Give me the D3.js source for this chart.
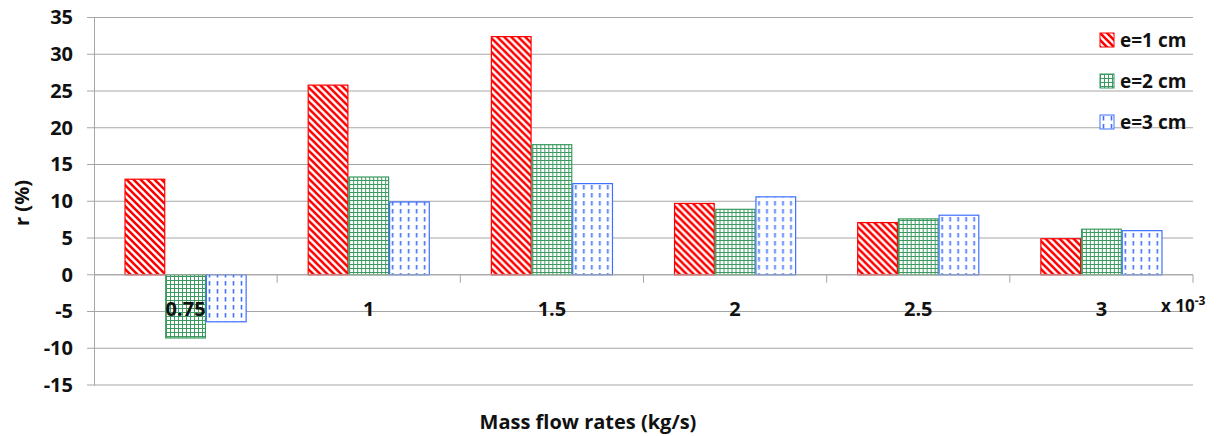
<!DOCTYPE html>
<html>
<head>
<meta charset="utf-8">
<script src="https://cdn.jsdelivr.net/npm/d3@7"></script>
<style>
body { margin: 0; background: #fff; }
text { font-family: "Open Sans", Lato, sans-serif; font-weight: bold; fill: #111; }
</style>
</head>
<body>
<script>
// chart data
var categories = ["0.75", "1", "1.5", "2", "2.5", "3"];
var series = ["e=1 cm", "e=2 cm", "e=3 cm"];
var e1 = [13.0, 25.8, 32.4, 9.7, 7.1, 4.9];
var e2 = [-8.6, 13.3, 17.7, 8.9, 7.6, 6.2];
var e3 = [-6.4, 9.9, 12.4, 10.6, 8.1, 6.0];
var yTicks = [-15, -10, -5, 0, 5, 10, 15, 20, 25, 30, 35];

var values = [e1, e2, e3];
var colors = ["#ff0000", "#3b9a5f", "#3f70ff"];
var patIds = ["patRed", "patGreen", "patBlue"];

var width = 1224, height = 436;
var pLeft = 94, pRight = 1193, pTop = 17.5, pBottom = 385;

var svg = d3.select("body").append("svg")
  .attr("width", width)
  .attr("height", height);

// patterns
var defs = svg.append("defs");

var pr = defs.append("pattern").attr("id", "patRed")
  .attr("patternUnits", "userSpaceOnUse").attr("width", 7).attr("height", 7);
pr.append("rect").attr("width", 7).attr("height", 7).attr("fill", "#fff");
pr.append("path").attr("d", "M-1,-1 L8,8 M-4.5,2.5 L1.5,8.5 M5.5,-1.5 L8.5,1.5")
  .attr("stroke", colors[0]).attr("stroke-width", 2.6);

var pg = defs.append("pattern").attr("id", "patGreen")
  .attr("patternUnits", "userSpaceOnUse").attr("width", 4).attr("height", 4);
pg.append("rect").attr("width", 4).attr("height", 4).attr("fill", "#fff");
pg.append("path").attr("d", "M0.5,0 L0.5,4 M0,0.5 L4,0.5")
  .attr("stroke", colors[1]).attr("stroke-width", 1);

var pb = defs.append("pattern").attr("id", "patBlue")
  .attr("patternUnits", "userSpaceOnUse").attr("width", 8).attr("height", 8);
pb.append("rect").attr("width", 8).attr("height", 8).attr("fill", "#fff");
pb.append("path").attr("d", "M3.5,1 L3.5,5.5")
  .attr("stroke", colors[2]).attr("stroke-width", 1.6);

// scales
var x0 = d3.scaleBand().domain(categories).range([pLeft, pRight]);
var x1 = d3.scaleBand().domain(series).range([0, x0.bandwidth()]).paddingOuter(0.75);
var y = d3.scaleLinear().domain([-15, 35]).range([pBottom, pTop]);

// gridlines
svg.append("g").selectAll("line")
  .data(yTicks)
  .enter().append("line")
  .attr("x1", pLeft - 7).attr("x2", pRight)
  .attr("y1", d => y(d)).attr("y2", d => y(d))
  .attr("stroke", "#a6a6a6").attr("stroke-width", 1);

// y axis
var yAxis = d3.axisLeft(y).tickValues(yTicks).tickSize(0).tickPadding(21)
  .tickFormat(d => String(d));
var gy = svg.append("g").attr("transform", "translate(" + pLeft + ",0)").call(yAxis);
gy.select(".domain").attr("stroke", "#a6a6a6");
gy.selectAll("text").attr("font-size", 20)
  .style("font-family", "'Open Sans', sans-serif").style("font-weight", "bold").attr("fill", "#111");

// bars
var groups = svg.append("g").selectAll("g")
  .data(categories)
  .enter().append("g")
  .attr("transform", d => "translate(" + x0(d) + ",0)");

groups.selectAll("rect")
  .data((d, i) => series.map((s, j) => ({ s: s, j: j, v: values[j][i] })))
  .enter().append("rect")
  .attr("x", d => x1(d.s) + 0.5)
  .attr("width", x1.bandwidth() - 1)
  .attr("y", d => y(Math.max(0, d.v)))
  .attr("height", d => Math.abs(y(d.v) - y(0)))
  .attr("fill", d => "url(#" + patIds[d.j] + ")")
  .attr("stroke", d => colors[d.j])
  .attr("stroke-width", 1.2);

// x axis on zero line
var boundaries = categories.map(c => x0(c)).concat([pRight]);
var gx = svg.append("g");
gx.append("line").attr("x1", pLeft).attr("x2", pRight)
  .attr("y1", y(0)).attr("y2", y(0)).attr("stroke", "#a6a6a6");
gx.selectAll("line.tk").data(boundaries.slice(1))
  .enter().append("line").attr("class", "tk")
  .attr("x1", d => d).attr("x2", d => d)
  .attr("y1", y(0)).attr("y2", y(0) + 8)
  .attr("stroke", "#a6a6a6");
gx.selectAll("text").data(categories)
  .enter().append("text")
  .attr("x", d => x0(d) + x0.bandwidth() / 2)
  .attr("y", y(0) + 41)
  .attr("text-anchor", "middle")
  .attr("font-size", 20)
  .text(d => d);

var mult = svg.append("text").attr("x", 1161).attr("y", y(0) + 37).attr("font-size", 17);
mult.append("tspan").text("x 10");
mult.append("tspan").attr("dy", -7).attr("font-size", 12).text("-3");

// axis titles
svg.append("text")
  .attr("transform", "translate(29," + 203 + ") rotate(-90)")
  .attr("text-anchor", "middle")
  .attr("font-size", 20)
  .text("r (%)");

svg.append("text")
  .attr("x", 588).attr("y", 429)
  .attr("text-anchor", "middle")
  .attr("font-size", 20)
  .text("Mass flow rates (kg/s)");

// legend
var legend = svg.append("g").selectAll("g")
  .data(series)
  .enter().append("g")
  .attr("transform", (d, i) => "translate(1100," + (33 + i * 41) + ")");
legend.append("rect")
  .attr("width", 14).attr("height", 14)
  .attr("fill", (d, i) => "url(#" + patIds[i] + ")")
  .attr("stroke", (d, i) => colors[i]);
legend.append("text")
  .attr("x", 20).attr("y", 14)
  .attr("font-size", 19)
  .text(d => d);
</script>
</body>
</html>
